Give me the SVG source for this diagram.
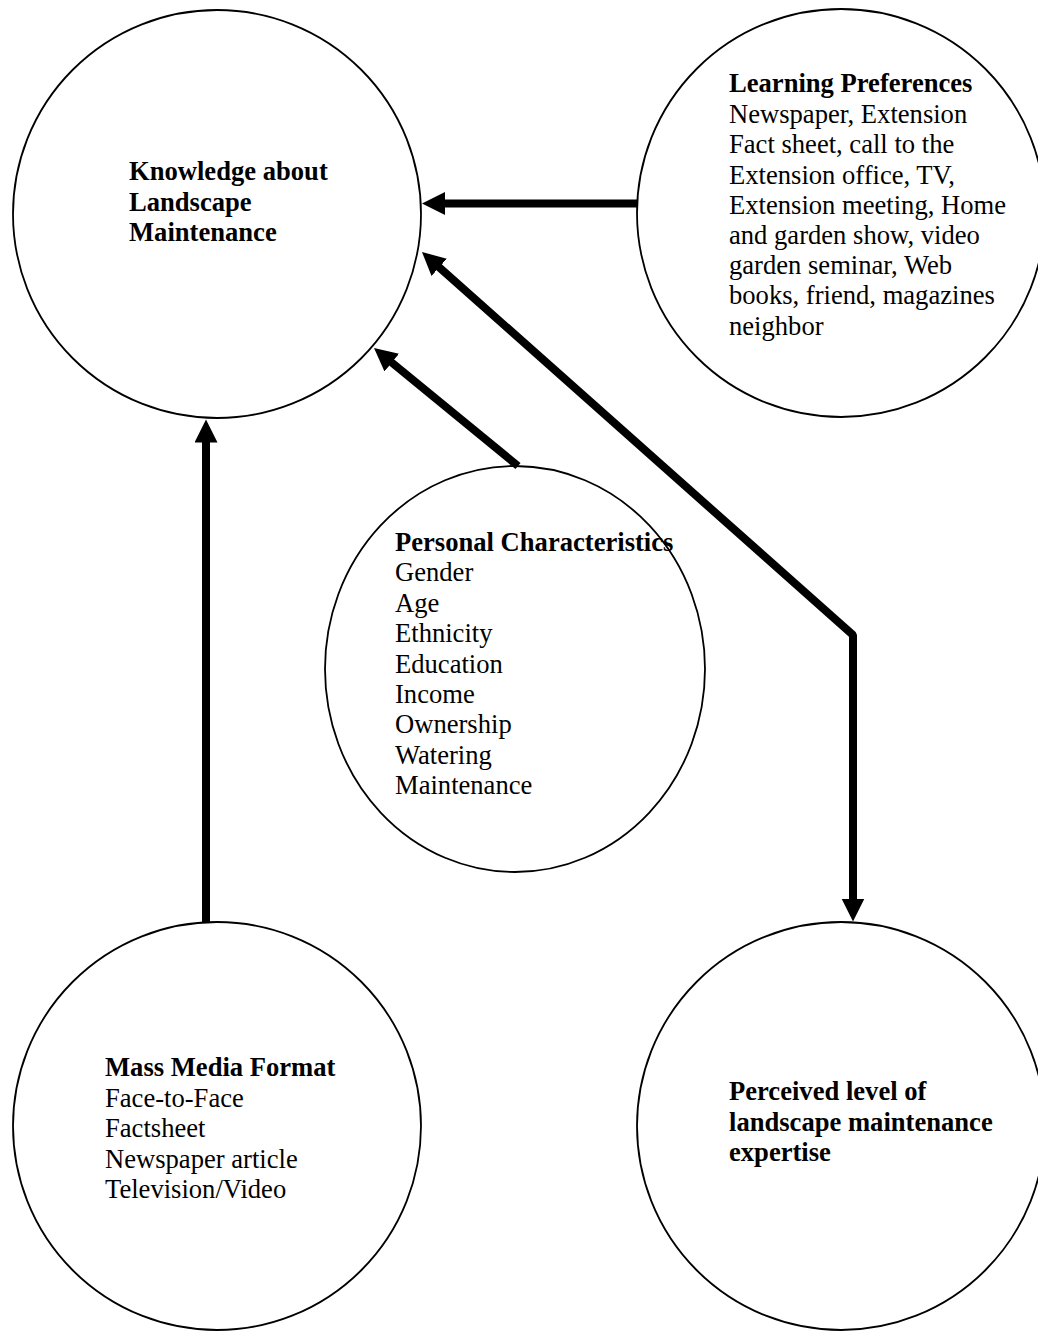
<svg xmlns="http://www.w3.org/2000/svg" width="1038" height="1331" viewBox="0 0 1038 1331">
<style>
.node{fill:#fff;stroke:#000;stroke-width:1.8}
text{font-family:"Liberation Serif","Times New Roman",serif;font-size:26.6px;fill:#000}
.b{font-weight:bold}
.conn{fill:none;stroke:#000;stroke-width:8;stroke-linejoin:bevel}
</style>
<defs>
<marker id="ah" markerUnits="userSpaceOnUse" markerWidth="24" markerHeight="24" refX="8" refY="11.5" orient="auto-start-reverse">
<path d="M0,0 L23,11.5 L0,23 z" fill="#000"/>
</marker>
</defs>
<rect width="1038" height="1331" fill="#fff"/>
<g id="knowledge">
<circle class="node" cx="217" cy="214" r="204"/>
<text class="b" x="129" y="180">Knowledge about</text>
<text class="b" x="129" y="211">Landscape</text>
<text class="b" x="129" y="241">Maintenance</text>
</g>
<g id="learning">
<circle class="node" cx="841" cy="213" r="204"/>
<text class="b" x="729" y="92">Learning Preferences</text>
<text x="729" y="123">Newspaper, Extension</text>
<text x="729" y="153">Fact sheet, call to the</text>
<text x="729" y="184">Extension office, TV,</text>
<text x="729" y="214">Extension meeting, Home</text>
<text x="729" y="244">and garden show, video</text>
<text x="729" y="274">garden seminar, Web</text>
<text x="729" y="304">books, friend, magazines</text>
<text x="729" y="335">neighbor</text>
</g>
<g id="personal">
<ellipse class="node" cx="515" cy="669" rx="190" ry="203"/>
<text class="b" x="395" y="551">Personal Characteristics</text>
<text x="395" y="581">Gender</text>
<text x="395" y="612">Age</text>
<text x="395" y="642">Ethnicity</text>
<text x="395" y="673">Education</text>
<text x="395" y="703">Income</text>
<text x="395" y="733">Ownership</text>
<text x="395" y="764">Watering</text>
<text x="395" y="794">Maintenance</text>
</g>
<g id="massmedia">
<circle class="node" cx="217" cy="1126" r="204"/>
<text class="b" x="105" y="1076">Mass Media Format</text>
<text x="105" y="1107">Face-to-Face</text>
<text x="105" y="1137">Factsheet</text>
<text x="105" y="1168">Newspaper article</text>
<text x="105" y="1198">Television/Video</text>
</g>
<g id="perceived">
<circle class="node" cx="841" cy="1126" r="204"/>
<text class="b" x="729" y="1100">Perceived level of</text>
<text class="b" x="729" y="1131">landscape maintenance</text>
<text class="b" x="729" y="1161">expertise</text>
</g>
<g id="connectors">
<line class="conn" x1="637" y1="203.5" x2="437" y2="203.5" marker-end="url(#ah)"/>
<line class="conn" x1="206" y1="922" x2="206" y2="434.5" marker-end="url(#ah)"/>
<line class="conn" x1="518" y1="466" x2="385.6" y2="357.5" marker-end="url(#ah)"/>
<path class="conn" d="M433.2,262 L853,635 L853,906.5" marker-start="url(#ah)" marker-end="url(#ah)"/>
</g>
</svg>
